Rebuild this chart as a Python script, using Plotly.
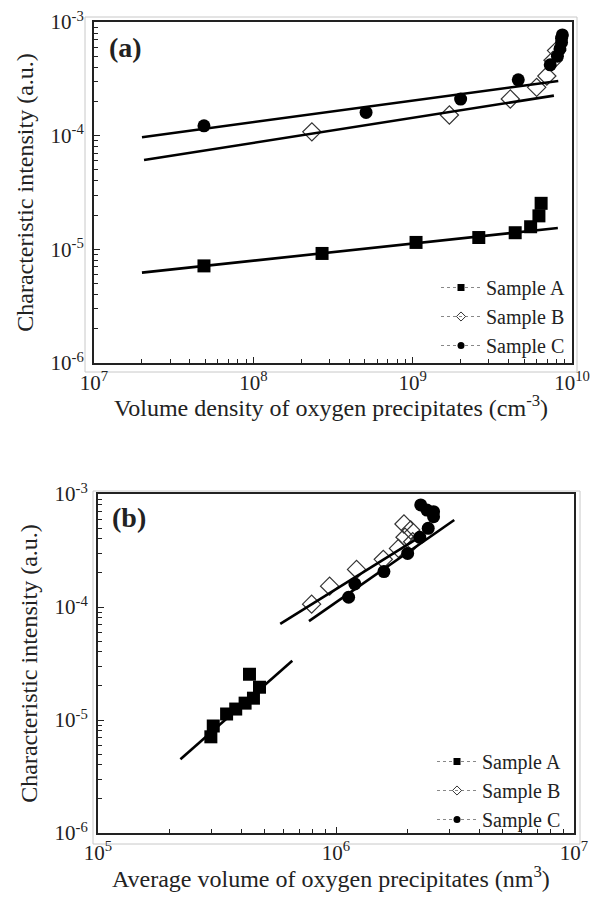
import plotly.graph_objects as go

# ---------------- data ----------------
# Panel (a): volume density (cm^-3) vs characteristic intensity (a.u.)
a_A_x = [4.9e7, 2.7e8, 1.05e9, 2.6e9, 4.4e9, 5.5e9, 6.2e9, 6.4e9]
a_A_y = [7.15e-6, 9.2e-6, 1.15e-5, 1.27e-5, 1.40e-5, 1.58e-5, 1.97e-5, 2.54e-5]
a_B_x = [2.33e8, 1.70e9, 4.1e9, 6.0e9, 6.95e9, 7.6e9, 8.0e9]
a_B_y = [1.08e-4, 1.52e-4, 2.1e-4, 2.66e-4, 3.35e-4, 4.6e-4, 5.6e-4]
a_C_x = [4.9e7, 5.1e8, 2.0e9, 4.6e9, 7.3e9, 8.1e9, 8.4e9, 8.6e9, 8.6e9, 8.7e9]
a_C_y = [1.22e-4, 1.6e-4, 2.1e-4, 3.1e-4, 4.2e-4, 5.0e-4, 5.8e-4, 6.6e-4, 7.2e-4, 7.7e-4]

a_fitA_x = [2.0e7, 8.15e9]
a_fitA_y = [6.24e-6, 1.54e-5]
a_fitB_x = [2.06e7, 7.7e9]
a_fitB_y = [6.1e-5, 2.25e-4]
a_fitC_x = [2.0e7, 8.2e9]
a_fitC_y = [9.7e-5, 3.03e-4]

# Panel (b): average volume (nm^3) vs characteristic intensity (a.u.)
b_A_x = [2.98e5, 3.05e5, 3.47e5, 3.79e5, 4.15e5, 4.5e5, 4.77e5, 4.33e5]
b_A_y = [7.1e-6, 8.85e-6, 1.13e-5, 1.25e-5, 1.41e-5, 1.56e-5, 1.95e-5, 2.54e-5]
b_B_x = [7.9e5, 9.4e5, 1.22e6, 1.58e6, 1.83e6, 2.1e6, 1.95e6, 2.06e6, 1.93e6]
b_B_y = [1.06e-4, 1.53e-4, 2.15e-4, 2.64e-4, 3.3e-4, 3.78e-4, 4.14e-4, 4.8e-4, 5.43e-4]
b_C_x = [1.13e6, 1.2e6, 1.59e6, 2.0e6, 2.25e6, 2.44e6, 2.57e6, 2.57e6, 2.41e6, 2.27e6]
b_C_y = [1.22e-4, 1.6e-4, 2.06e-4, 2.98e-4, 4.14e-4, 4.97e-4, 6.3e-4, 6.98e-4, 7.2e-4, 8.0e-4]

b_fitA_x = [2.22e5, 6.55e5]
b_fitA_y = [4.49e-6, 3.35e-5]
b_fitB_x = [5.83e5, 2.15e6]
b_fitB_y = [7.08e-5, 3.92e-4]
b_fitC_x = [7.7e5, 3.14e6]
b_fitC_y = [7.5e-5, 5.89e-4]

series_names = ["Sample A", "Sample B", "Sample C"]

y_decades = [-6, -5, -4, -3]
xa_decades = [7, 8, 9, 10]
xb_decades = [5, 6, 7]

xa_title = "Volume density of oxygen precipitates (cm<sup>-3</sup>)"
xb_title = "Average volume of oxygen precipitates (nm<sup>3</sup>)"
y_title = "Characteristic intensity (a.u.)"

# ---------------- styling ----------------
FONT = "'Liberation Serif', 'Times New Roman', 'DejaVu Serif', Times, serif"
W, H = 596, 909


def px_x(p):
    return p / W


def px_y(p):
    return 1 - p / H


def major_ticks(decades):
    return [10.0 ** d for d in decades], ["10<sup>%d</sup>" % d for d in decades]


def minor_ticks(decades):
    return [m * 10.0 ** d for d in decades[:-1] for m in range(2, 10)]


markers = {
    "Sample A": dict(symbol="square", size=13, color="black"),
    "Sample B": dict(symbol="diamond-open", size=14, color="#333", line=dict(width=1.2, color="#333")),
    "Sample C": dict(symbol="circle", size=13, color="black"),
}
legend_markers = {
    "Sample A": dict(symbol="square", size=7, color="black"),
    "Sample B": dict(symbol="diamond-open", size=7, color="#333", line=dict(width=1, color="#333")),
    "Sample C": dict(symbol="circle", size=7, color="black"),
}

fig = go.Figure()


def add_panel(xs, ys, fits, xaxis, yaxis, xminor, yminor, legend):
    for name, x, y in zip(series_names, xs, ys):
        fig.add_trace(go.Scatter(x=x, y=y, mode="markers", marker=markers[name],
                                 xaxis=xaxis, yaxis=yaxis, showlegend=False, name=name))
    for fx, fy in fits:
        fig.add_trace(go.Scatter(x=fx, y=fy, mode="lines", line=dict(color="black", width=2.6),
                                 xaxis=xaxis, yaxis=yaxis, showlegend=False, hoverinfo="skip"))
    for name in series_names:
        fig.add_trace(go.Scatter(x=[None], y=[None], mode="lines+markers", name=name,
                                 marker=legend_markers[name],
                                 line=dict(color="#888", width=1, dash="dot"),
                                 xaxis=xaxis, yaxis=yaxis, legend=legend, showlegend=True))
    # invisible trace so the minor-tick overlay axes are drawn
    fig.add_trace(go.Scatter(x=[None], y=[None], mode="markers", xaxis=xminor, yaxis=yminor,
                             showlegend=False, hoverinfo="skip"))


add_panel([a_A_x, a_B_x, a_C_x], [a_A_y, a_B_y, a_C_y],
          [(a_fitA_x, a_fitA_y), (a_fitB_x, a_fitB_y), (a_fitC_x, a_fitC_y)],
          "x", "y", "x3", "y3", "legend")
add_panel([b_A_x, b_B_x, b_C_x], [b_A_y, b_B_y, b_C_y],
          [(b_fitA_x, b_fitA_y), (b_fitB_x, b_fitB_y), (b_fitC_x, b_fitC_y)],
          "x2", "y2", "x4", "y4", "legend2")

axis_common = dict(type="log", showgrid=False, zeroline=False, showline=True, linecolor="#222",
                   linewidth=2, mirror=True, ticks="inside", ticklen=6, tickwidth=1.3,
                   tickcolor="#222", tickfont=dict(family=FONT, size=21, color="#222"),
                   automargin=False, tickmode="array", ticklabeloverflow="allow")
minor_common = dict(type="log", showgrid=False, zeroline=False, showline=False,
                    ticks="inside", ticklen=4, tickwidth=1, tickcolor="#222",
                    showticklabels=False, automargin=False, tickmode="array")

yv, yt = major_ticks(y_decades)
xav, xat = major_ticks(xa_decades)
xbv, xbt = major_ticks(xb_decades)

xtitle_font = dict(family=FONT, size=24, color="#222")
ytitle_font = dict(family=FONT, size=24, color="#222")
legend_font = dict(family=FONT, size=20, color="#222")

fig.update_layout(
    width=W, height=H,
    margin=dict(l=0, r=0, t=0, b=0),
    paper_bgcolor="white", plot_bgcolor="white",
    font=dict(family=FONT, color="#222"),
    xaxis=dict(axis_common, domain=[px_x(94), px_x(572)], anchor="y",
               range=[7, 10], tickvals=xav, ticktext=xat),
    yaxis=dict(axis_common, domain=[px_y(363), px_y(22)], anchor="x",
               range=[-6, -3], tickvals=yv, ticktext=yt, ticklabelstandoff=4,
               title=dict(text=y_title, font=ytitle_font, standoff=10)),
    xaxis3=dict(minor_common, overlaying="x", anchor="y", side="bottom",
                range=[7, 10], tickvals=minor_ticks(xa_decades)),
    yaxis3=dict(minor_common, overlaying="y", anchor="x", side="left",
                range=[-6, -3], tickvals=minor_ticks(y_decades)),
    xaxis2=dict(axis_common, domain=[px_x(98), px_x(574)], anchor="y2",
                range=[5, 7], tickvals=xbv, ticktext=xbt),
    yaxis2=dict(axis_common, domain=[px_y(833), px_y(494)], anchor="x2",
                range=[-6, -3], tickvals=yv, ticktext=yt, ticklabelstandoff=4,
                title=dict(text=y_title, font=ytitle_font, standoff=10)),
    xaxis4=dict(minor_common, overlaying="x2", anchor="y2", side="bottom",
                range=[5, 7], tickvals=minor_ticks(xb_decades)),
    yaxis4=dict(minor_common, overlaying="y2", anchor="x2", side="left",
                range=[-6, -3], tickvals=minor_ticks(y_decades)),
    legend=dict(x=px_x(570), y=px_y(268), xanchor="right", yanchor="top",
                bgcolor="rgba(0,0,0,0)", font=legend_font, tracegroupgap=0, itemwidth=40),
    legend2=dict(x=px_x(566), y=px_y(742), xanchor="right", yanchor="top",
                 bgcolor="rgba(0,0,0,0)", font=legend_font, tracegroupgap=0, itemwidth=40),
    showlegend=True,
)

# light grey outer frames around each plot area
for x0, x1, y0, y1 in [(85, 577, 17, 372), (93, 580, 491, 844)]:
    fig.add_shape(type="rect", xref="paper", yref="paper",
                  x0=px_x(x0), x1=px_x(x1), y0=px_y(y1), y1=px_y(y0),
                  line=dict(color="#c8c8c8", width=1), fillcolor="rgba(0,0,0,0)", layer="below")

# x-axis titles (placed as annotations for exact vertical position)
fig.add_annotation(text=xa_title, x=px_x(331), y=px_y(406), xref="paper", yref="paper",
                   xanchor="center", yanchor="middle", showarrow=False, font=xtitle_font)
fig.add_annotation(text=xb_title, x=px_x(331), y=px_y(877), xref="paper", yref="paper",
                   xanchor="center", yanchor="middle", showarrow=False, font=xtitle_font)

# panel labels
fig.add_annotation(text="<b>(a)</b>", x=0.027, y=0.925, xref="x domain", yref="y domain",
                   xanchor="left", yanchor="middle", showarrow=False,
                   font=dict(family=FONT, size=28, color="#222"))
fig.add_annotation(text="<b>(b)</b>", x=0.025, y=0.93, xref="x2 domain", yref="y2 domain",
                   xanchor="left", yanchor="middle", showarrow=False,
                   font=dict(family=FONT, size=28, color="#222"))

fig.write_html("out.html", post_script="document.body.style.margin='0';",
               config={"displayModeBar": False})
